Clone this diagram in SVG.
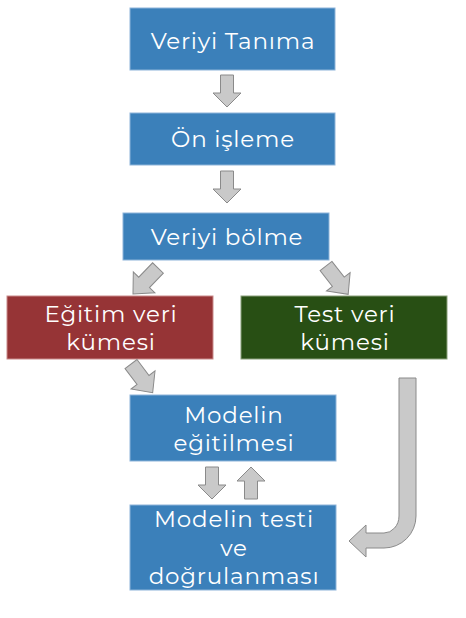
<svg xmlns="http://www.w3.org/2000/svg" width="466" height="618" viewBox="0 0 466 618">
<defs>
<style>
.box{fill:#3b80ba;stroke:#8db4d9;stroke-width:1}
.red{fill:#963436;stroke:#c98a8a;stroke-width:1}
.green{fill:#284f14;stroke:#8aa07a;stroke-width:1}
.t{font-family:"Montserrat","Open Sans","Noto Sans",sans-serif;font-size:23px;letter-spacing:0.8px;fill:#ffffff;text-anchor:middle}
.arr{fill:#c9c9c9;stroke:#8a8a8a;stroke-width:1;stroke-linejoin:miter}
</style>
<path id="down" d="M-6.5,0 H6.5 V18 H14 L0,32 L-14,18 H-6.5 Z"/>
<path id="diag" d="M0,-7.5 H20 V-15 L36,0 L20,15 V7.5 H0 Z"/>
</defs>
<rect width="466" height="618" fill="#ffffff"/>
<g id="n1"><rect class="box" x="130" y="8" width="205" height="62"/><text class="t" x="233" y="49">Veriyi Tanıma</text></g>
<g id="n2"><rect class="box" x="130" y="113" width="205" height="52"/><text class="t" x="233" y="147">Ön işleme</text></g>
<g id="n3"><rect class="box" x="123" y="213" width="206" height="47"/><text class="t" x="227" y="245">Veriyi bölme</text></g>
<g id="n4"><rect class="red" x="7" y="296" width="206" height="63"/><text class="t" x="111" y="322">Eğitim veri</text><text class="t" x="111" y="350">kümesi</text></g>
<g id="n5"><rect class="green" x="241" y="296" width="206" height="63"/><text class="t" x="345" y="322">Test veri</text><text class="t" x="345" y="350">kümesi</text></g>
<g id="n6"><rect class="box" x="130" y="395" width="206" height="66"/><text class="t" x="234" y="423">Modelin</text><text class="t" x="234" y="451">eğitilmesi</text></g>
<g id="n7"><rect class="box" x="130" y="505" width="206" height="85"/><text class="t" x="234" y="527">Modelin testi</text><text class="t" x="234" y="556">ve</text><text class="t" x="234" y="584">doğrulanması</text></g>
<g id="connectors">
<use href="#down" class="arr" transform="translate(227,75)"/>
<use href="#down" class="arr" transform="translate(227,171)"/>
<use href="#diag" class="arr" transform="translate(158,268) rotate(134)"/>
<use href="#diag" class="arr" transform="translate(326,266) rotate(52)"/>
<use href="#diag" class="arr" transform="translate(131,364) rotate(53)"/>
<use href="#down" class="arr" transform="translate(212,467)"/>
<use href="#down" class="arr" transform="translate(251,499) rotate(180)"/>
<path class="arr" d="M399,378 H416 V516 A32,32 0 0 1 384,548 H366 V557 L349,541 L366,525 V533 H384 A15,17 0 0 0 399,516 Z"/>
</g>
</svg>
